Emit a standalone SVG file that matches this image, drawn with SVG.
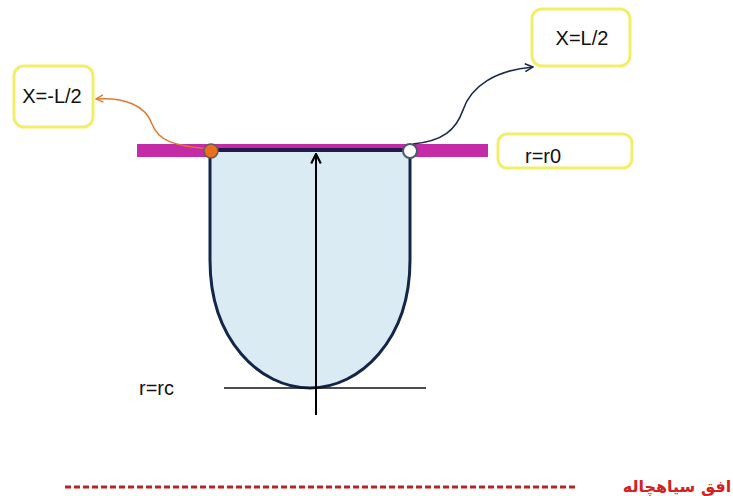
<svg xmlns="http://www.w3.org/2000/svg" width="733" height="496" viewBox="0 0 733 496">
<style>
.box{fill:#fff;stroke:#f3ee6a;stroke-width:3}
.lbl{font-family:"Liberation Sans",Arial,sans-serif;font-size:20px;fill:#111}
</style>
<defs>
<marker id="ao" viewBox="0 0 10 10" refX="9" refY="5" markerWidth="9" markerHeight="9" orient="auto" markerUnits="userSpaceOnUse"><path d="M1,1 L9,5 L1,9" fill="none" stroke="#e07a30" stroke-width="1.5"/></marker>
<marker id="ab" viewBox="0 0 10 10" refX="9" refY="5" markerWidth="10" markerHeight="10" orient="auto" markerUnits="userSpaceOnUse"><path d="M1,1 L9,5 L1,9" fill="none" stroke="#1c2a4a" stroke-width="1.6"/></marker>
<marker id="ak" viewBox="0 0 10 10" refX="9" refY="5" markerWidth="12" markerHeight="12" orient="auto" markerUnits="userSpaceOnUse"><path d="M1,1 L9,5 L1,9" fill="none" stroke="#000" stroke-width="1.8"/></marker>
</defs>
<rect width="733" height="496" fill="#fff"/>
<g id="bar">
<rect x="137" y="144" width="351" height="13" fill="#c42ba6"/>
</g>
<g id="well">
<path d="M210,150 L210,260 C210,340 260,388 310,388 C360,388 410,340 410,260 L410,150 Z" fill="#daebf4" stroke="none"/>
<path d="M210,150 L210,260 C210,340 260,388 310,388 C360,388 410,340 410,260 L410,150" fill="none" stroke="#14254a" stroke-width="3"/>
<line x1="210" y1="150" x2="410" y2="150" stroke="#231a4e" stroke-width="4"/>
</g>
<g id="rc-line">
<line x1="224" y1="388" x2="426" y2="388" stroke="#111" stroke-width="1.5"/>
<text class="lbl" x="139" y="395" font-size="18">r=rc</text>
</g>
<g id="connectors">
<line x1="316" y1="415" x2="316" y2="154" stroke="#000" stroke-width="2" marker-end="url(#ak)"/>
<path d="M211,149 C172,146 158,140 152,124 C146,106 125,97 96,99" fill="none" stroke="#e07a30" stroke-width="1.5" marker-end="url(#ao)"/>
<path d="M413,144 C443,141 456,130 463,110 C471,86 496,70 533,67" fill="none" stroke="#1c2a4a" stroke-width="1.6" marker-end="url(#ab)"/>
</g>
<g id="p-left">
<circle cx="211" cy="151" r="7" fill="#e8701f" stroke="#6a5a5a" stroke-width="1.5"/>
</g>
<g id="p-right">
<circle cx="410" cy="151" r="7" fill="#fff" stroke="#4a5870" stroke-width="2"/>
</g>
<g id="n-xneg">
<rect class="box" x="14" y="66" width="79" height="61" rx="10"/>
<text class="lbl" x="52" y="103" text-anchor="middle">X=-L/2</text>
</g>
<g id="n-xpos">
<rect class="box" x="532" y="9" width="98" height="57" rx="10"/>
<text class="lbl" x="582" y="45" text-anchor="middle">X=L/2</text>
</g>
<g id="n-r0">
<rect class="box" x="498" y="134" width="134" height="34" rx="9"/>
<text class="lbl" x="525" y="163" font-size="19">r=r0</text>
</g>
<g id="horizon">
<line x1="65" y1="487" x2="576" y2="487" stroke="#b8232a" stroke-width="3" stroke-dasharray="6,3"/>
<text x="677" y="492" text-anchor="middle" font-family="'DejaVu Sans','Noto Sans',sans-serif" font-size="16" font-weight="bold" fill="#d42020">افق سیاهچاله</text>
</g>
</svg>
